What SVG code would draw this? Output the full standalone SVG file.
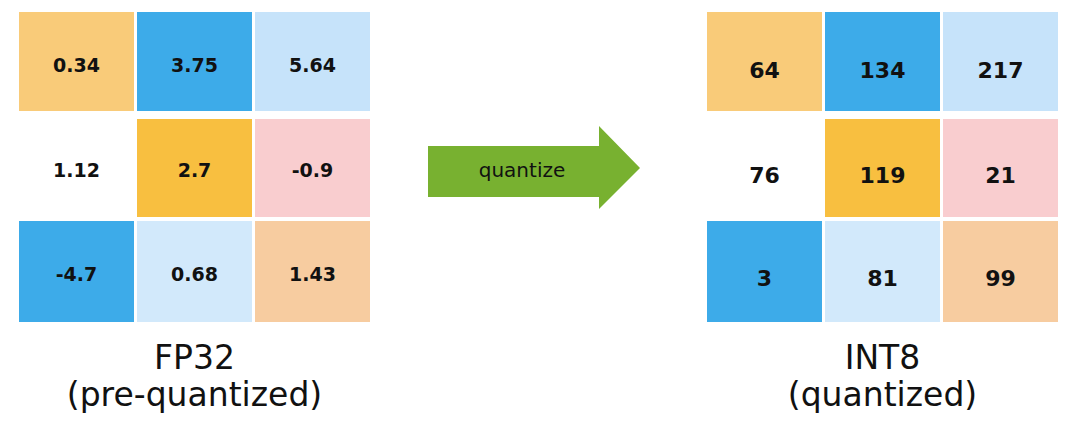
<svg xmlns="http://www.w3.org/2000/svg" width="1080" height="434" viewBox="0 0 1080 434">
<style>
.cell text{font-family:"DejaVu Sans",sans-serif;font-weight:bold;fill:#111;text-anchor:middle;dominant-baseline:central}
#fp32 .cell text{font-size:19px}
#int8 .cell text{font-size:22px}
.lbl{font-family:"DejaVu Sans",sans-serif;font-size:33px;fill:#111;text-anchor:middle}
.c1{fill:#F9CB79}.c2{fill:#3DABE9}.c3{fill:#C6E3FA}.c4{fill:#FFFFFF}.c5{fill:#F8BF40}.c6{fill:#F9CDCF}.c7{fill:#D2E9FB}.c8{fill:#F7CCA0}
</style>
<rect width="1080" height="434" fill="#fff"/>
<g id="fp32">
<g class="cell" id="fp-r1c1"><rect class="c1" x="19" y="12" width="115" height="99"/><text x="76.5" y="65">0.34</text></g>
<g class="cell" id="fp-r1c2"><rect class="c2" x="137" y="12" width="115" height="99"/><text x="194.5" y="65">3.75</text></g>
<g class="cell" id="fp-r1c3"><rect class="c3" x="255" y="12" width="115" height="99"/><text x="312.5" y="65">5.64</text></g>
<g class="cell" id="fp-r2c1"><rect class="c4" x="19" y="119" width="115" height="98"/><text x="76.5" y="170">1.12</text></g>
<g class="cell" id="fp-r2c2"><rect class="c5" x="137" y="119" width="115" height="98"/><text x="194.5" y="170">2.7</text></g>
<g class="cell" id="fp-r2c3"><rect class="c6" x="255" y="119" width="115" height="98"/><text x="312.5" y="170">-0.9</text></g>
<g class="cell" id="fp-r3c1"><rect class="c2" x="19" y="221" width="115" height="101"/><text x="76.5" y="274">-4.7</text></g>
<g class="cell" id="fp-r3c2"><rect class="c7" x="137" y="221" width="115" height="101"/><text x="194.5" y="274">0.68</text></g>
<g class="cell" id="fp-r3c3"><rect class="c8" x="255" y="221" width="115" height="101"/><text x="312.5" y="274">1.43</text></g>
<text class="lbl" x="194.5" y="369">FP32</text>
<text class="lbl" x="194.5" y="406">(pre-quantized)</text>
</g>
<g id="int8">
<g class="cell" id="i-r1c1"><rect class="c1" x="707" y="12" width="115" height="99"/><text x="764.5" y="70">64</text></g>
<g class="cell" id="i-r1c2"><rect class="c2" x="825" y="12" width="115" height="99"/><text x="882.5" y="70">134</text></g>
<g class="cell" id="i-r1c3"><rect class="c3" x="943" y="12" width="115" height="99"/><text x="1000.5" y="70">217</text></g>
<g class="cell" id="i-r2c1"><rect class="c4" x="707" y="119" width="115" height="98"/><text x="764.5" y="175">76</text></g>
<g class="cell" id="i-r2c2"><rect class="c5" x="825" y="119" width="115" height="98"/><text x="882.5" y="175">119</text></g>
<g class="cell" id="i-r2c3"><rect class="c6" x="943" y="119" width="115" height="98"/><text x="1000.5" y="175">21</text></g>
<g class="cell" id="i-r3c1"><rect class="c2" x="707" y="221" width="115" height="101"/><text x="764.5" y="278.5">3</text></g>
<g class="cell" id="i-r3c2"><rect class="c7" x="825" y="221" width="115" height="101"/><text x="882.5" y="278.5">81</text></g>
<g class="cell" id="i-r3c3"><rect class="c8" x="943" y="221" width="115" height="101"/><text x="1000.5" y="278.5">99</text></g>
<text class="lbl" x="882.5" y="369">INT8</text>
<text class="lbl" x="882.5" y="406">(quantized)</text>
</g>
<g id="connectors">
<polygon points="428,146 599,146 599,126 640,168 599,209 599,197 428,197" fill="#78B130"/>
<text x="522" y="177" font-family="DejaVu Sans, sans-serif" font-size="20" fill="#111" text-anchor="middle">quantize</text>
</g>
</svg>
